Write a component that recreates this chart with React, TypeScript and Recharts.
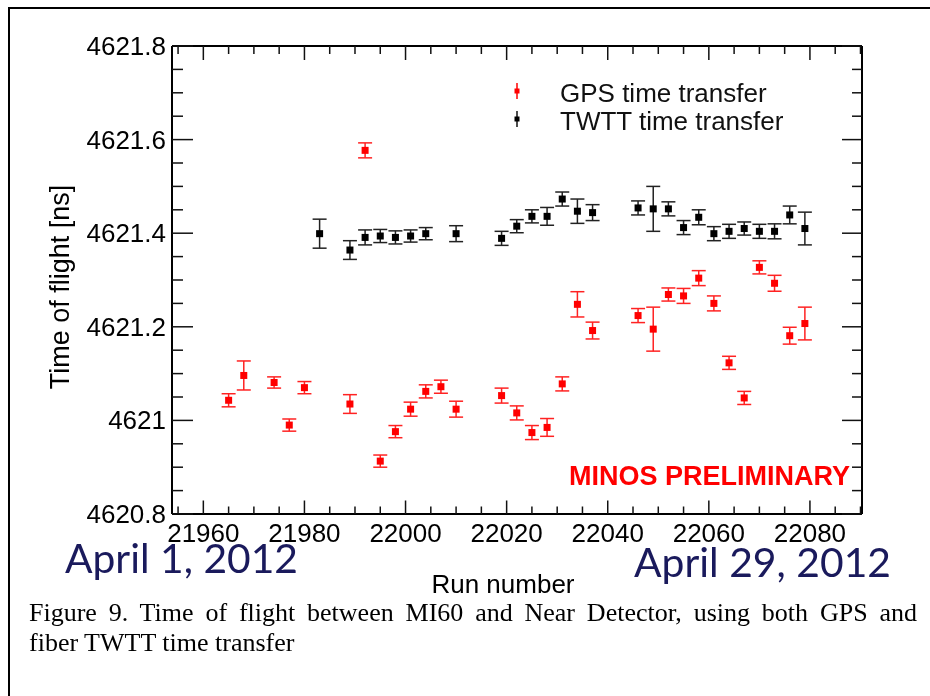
import React from 'react';
import { ScatterChart, Scatter, XAxis, YAxis, ErrorBar, Legend } from 'recharts';

// ---------- data ----------
const gpsRuns = [21965, 21968, 21974, 21977, 21980, 21989, 21992, 21995, 21998, 22001, 22004, 22007, 22010, 22019, 22022, 22025, 22028, 22031, 22034, 22037, 22046, 22049, 22052, 22055, 22058, 22061, 22064, 22067, 22070, 22073, 22076, 22079];
const gpsValues = [4621.043, 4621.096, 4621.081, 4620.990, 4621.070, 4621.035, 4621.577, 4620.913, 4620.976, 4621.024, 4621.062, 4621.072, 4621.024, 4621.053, 4621.016, 4620.974, 4620.985, 4621.078, 4621.248, 4621.192, 4621.224, 4621.195, 4621.269, 4621.266, 4621.304, 4621.250, 4621.123, 4621.048, 4621.327, 4621.293, 4621.181, 4621.207];
const gpsErrors = [0.014, 0.031, 0.012, 0.013, 0.013, 0.020, 0.016, 0.013, 0.013, 0.015, 0.014, 0.014, 0.017, 0.016, 0.015, 0.015, 0.019, 0.015, 0.027, 0.018, 0.015, 0.047, 0.014, 0.016, 0.016, 0.016, 0.014, 0.014, 0.014, 0.017, 0.018, 0.035];

const twttRuns = [21983, 21989, 21992, 21995, 21998, 22001, 22004, 22010, 22019, 22022, 22025, 22028, 22031, 22034, 22037, 22046, 22049, 22052, 22055, 22058, 22061, 22064, 22067, 22070, 22073, 22076, 22079];
const twttValues = [4621.399, 4621.364, 4621.391, 4621.394, 4621.391, 4621.394, 4621.399, 4621.399, 4621.389, 4621.415, 4621.436, 4621.436, 4621.473, 4621.447, 4621.444, 4621.454, 4621.452, 4621.452, 4621.412, 4621.434, 4621.399, 4621.404, 4621.410, 4621.404, 4621.404, 4621.439, 4621.410];
const twttErrors = [0.031, 0.020, 0.016, 0.014, 0.014, 0.013, 0.013, 0.017, 0.015, 0.014, 0.014, 0.019, 0.015, 0.026, 0.017, 0.015, 0.048, 0.015, 0.015, 0.016, 0.015, 0.015, 0.014, 0.015, 0.016, 0.019, 0.035];

const seriesNames = ['GPS time transfer', 'TWTT time transfer'];

const xTicks = [21955, 21960, 21965, 21970, 21975, 21980, 21985, 21990, 21995, 22000, 22005, 22010, 22015, 22020, 22025, 22030, 22035, 22040, 22045, 22050, 22055, 22060, 22065, 22070, 22075, 22080, 22085, 22090];
const xMajorTicks = [21960, 21980, 22000, 22020, 22040, 22060, 22080];
const yTicks = [4620.8, 4620.85, 4620.9, 4620.95, 4621.0, 4621.05, 4621.1, 4621.15, 4621.2, 4621.25, 4621.3, 4621.35, 4621.4, 4621.45, 4621.5, 4621.55, 4621.6, 4621.65, 4621.7, 4621.75, 4621.8];
const yMajorTicks = [4620.8, 4621.0, 4621.2, 4621.4, 4621.6, 4621.8];
const yTickLabels = ['4620.8', '4621', '4621.2', '4621.4', '4621.6', '4621.8'];
const xDomain = [21953.8, 22090.3];
const yDomain = [4620.8, 4621.8];

const xAxisTitle = 'Run number';
const yAxisTitle = 'Time of flight [ns]';
const startDate = 'April 1, 2012';
const endDate = 'April 29, 2012';
const stamp = 'MINOS PRELIMINARY';
const captionLine1 = 'Figure 9. Time of flight between MI60 and Near Detector, using both GPS and';
const captionLine2 = 'fiber TWTT time transfer';

const gpsData = gpsRuns.map((r, i) => ({ run: r, tof: gpsValues[i], err: gpsErrors[i] }));
const twttData = twttRuns.map((r, i) => ({ run: r, tof: twttValues[i], err: twttErrors[i] }));

// ---------- styling helpers ----------
const SANS = '"Liberation Sans", Arial, Helvetica, sans-serif';
const W = 914;
const H = 600;

const near = (a: number, list: number[]) => list.findIndex((m) => Math.abs(m - a) < 1e-6);

const BottomTick = (props: any) => {
  const { x, y, payload } = props;
  const major = near(payload.value, xMajorTicks) >= 0;
  return (
    <g>
      <line x1={x} x2={x} y1={y} y2={y - (major ? 13.5 : 7.5)} stroke="#111" strokeWidth={1.5} />
      {major && (
        <text x={x} y={y + 28} textAnchor="middle" fontSize={26} fontFamily={SANS} fill="#000">
          {payload.value}
        </text>
      )}
    </g>
  );
};

const TopTick = (props: any) => {
  const { x, y, payload } = props;
  const major = near(payload.value, xMajorTicks) >= 0;
  return <line x1={x} x2={x} y1={y} y2={y + (major ? 14 : 8)} stroke="#111" strokeWidth={1.5} />;
};

const LeftTick = (props: any) => {
  const { x, y, payload } = props;
  const idx = near(payload.value, yMajorTicks);
  const major = idx >= 0;
  return (
    <g>
      <line x1={x} x2={x + (major ? 21 : 11)} y1={y} y2={y} stroke="#111" strokeWidth={1.5} />
      {major && (
        <text x={x - 6} y={y + 9} textAnchor="end" fontSize={26} fontFamily={SANS} fill="#000">
          {yTickLabels[idx]}
        </text>
      )}
    </g>
  );
};

const RightTick = (props: any) => {
  const { x, y, payload } = props;
  const major = near(payload.value, yMajorTicks) >= 0;
  return <line x1={x} x2={x - (major ? 20 : 10)} y1={y} y2={y} stroke="#111" strokeWidth={1.5} />;
};

const square = (color: string) => (props: any) => {
  const { cx, cy } = props;
  if (cx == null || cy == null) return <g />;
  return <rect x={cx - 3.5} y={cy - 3.5} width={7} height={7} fill={color} />;
};

const XTitle = (props: any) => {
  const vb = props.viewBox || { x: 164, y: 506, width: 690, height: 80 };
  return (
    <text x={vb.x + vb.width / 2 - 14} y={vb.y + 79} textAnchor="middle" fontSize={26} fontFamily={SANS} fill="#000">
      {xAxisTitle}
    </text>
  );
};

const YTitle = (props: any) => {
  const vb = props.viewBox || { x: 0, y: 38, width: 164, height: 468 };
  const cx = vb.x + 61;
  const cy = vb.y + vb.height / 2 + 7;
  return (
    <text x={cx} y={cy} transform={`rotate(-90 ${cx} ${cy})`} textAnchor="middle" fontSize={27} fontFamily={SANS} fill="#000">
      {yAxisTitle}
    </text>
  );
};

const LegendBox = () => (
  <svg width={380} height={70} style={{ display: 'block', overflow: 'visible' }}>
    <line x1={14} x2={14} y1={7} y2={23} stroke="#f00" strokeWidth={1.5} />
    <rect x={11.5} y={12.5} width={5} height={5} fill="#f00" />
    <text x={57} y={25.5} fontSize={26} fontFamily={SANS} fill="#111">{seriesNames[0]}</text>
    <line x1={14} x2={14} y1={35} y2={51} stroke="#111" strokeWidth={1.5} />
    <rect x={11.5} y={40.5} width={5} height={5} fill="#000" />
    <text x={57} y={54} fontSize={26} fontFamily={SANS} fill="#111">{seriesNames[1]}</text>
  </svg>
);

export default function App() {
  return (
    <div style={{ position: 'relative', width: W, height: 680, background: '#fff' }}>
      <div
        style={{
          position: 'fixed',
          left: 8,
          top: 7,
          width: 930,
          height: 720,
          borderTop: '2px solid #000',
          borderLeft: '2px solid #000',
          boxSizing: 'border-box',
          pointerEvents: 'none',
        }}
      />
      <ScatterChart width={W} height={H} margin={{ top: 37, right: 59, bottom: 14, left: 0 }}>
        <XAxis
          xAxisId={0}
          type="number"
          dataKey="run"
          domain={xDomain}
          allowDataOverflow
          ticks={xTicks}
          interval={0}
          height={80}
          tickLine={false}
          tickSize={0}
          tickMargin={0}
          tick={<BottomTick />}
          axisLine={{ stroke: '#000', strokeWidth: 2 }}
          label={(p: any) => <XTitle {...p} />}
        />
        <XAxis
          xAxisId="top"
          orientation="top"
          type="number"
          dataKey="run"
          domain={xDomain}
          allowDataOverflow
          ticks={xTicks}
          interval={0}
          height={1}
          tickLine={false}
          tickSize={0}
          tickMargin={0}
          tick={<TopTick />}
          axisLine={{ stroke: '#000', strokeWidth: 2 }}
        />
        <YAxis
          yAxisId={0}
          type="number"
          dataKey="tof"
          domain={yDomain}
          allowDataOverflow
          ticks={yTicks}
          interval={0}
          width={164}
          tickLine={false}
          tickSize={0}
          tickMargin={0}
          tick={<LeftTick />}
          axisLine={{ stroke: '#000', strokeWidth: 2 }}
          label={(p: any) => <YTitle {...p} />}
        />
        <YAxis
          yAxisId="right"
          orientation="right"
          type="number"
          dataKey="tof"
          domain={yDomain}
          allowDataOverflow
          ticks={yTicks}
          interval={0}
          width={1}
          tickLine={false}
          tickSize={0}
          tickMargin={0}
          tick={<RightTick />}
          axisLine={{ stroke: '#000', strokeWidth: 2 }}
        />
        <Legend
          layout="horizontal"
          verticalAlign="middle"
          align="center"
          wrapperStyle={{ top: 68, left: 495, width: 380, height: 70 }}
          content={() => <LegendBox />}
        />
        <Scatter name={seriesNames[0]} data={gpsData} dataKey="tof" xAxisId={0} yAxisId={0} shape={square('#f00')} isAnimationActive={false}>
          <ErrorBar dataKey="err" direction="y" width={7} stroke="#f22" strokeWidth={1.5} isAnimationActive={false} />
        </Scatter>
        <Scatter name={seriesNames[1]} data={twttData} dataKey="tof" xAxisId={0} yAxisId={0} shape={square('#000')} isAnimationActive={false}>
          <ErrorBar dataKey="err" direction="y" width={7} stroke="#222" strokeWidth={1.5} isAnimationActive={false} />
        </Scatter>
      </ScatterChart>
      <svg width={W} height={H} style={{ position: 'absolute', left: 0, top: 0, pointerEvents: 'none' }}>
        <text x={842} y={477} textAnchor="end" fontSize={27} fontWeight="bold" fontFamily={SANS} fill="#f00">
          {stamp}
        </text>
        <text x={57} y={565} fontSize={40} fontFamily="Lato, 'Open Sans', sans-serif" fill="#1a1a5c" textLength={233} lengthAdjust="spacingAndGlyphs">
          {startDate}
        </text>
        <text x={626} y={568.5} fontSize={40} fontFamily="Lato, 'Open Sans', sans-serif" fill="#1a1a5c" textLength={257} lengthAdjust="spacingAndGlyphs">
          {endDate}
        </text>
      </svg>
      <div
        style={{
          position: 'absolute',
          left: 21,
          top: 590,
          width: 888,
          fontFamily: '"Liberation Serif", "Times New Roman", serif',
          fontSize: 26,
          lineHeight: '30px',
          color: '#000',
        }}
      >
        <div style={{ textAlign: 'justify', textAlignLast: 'justify', whiteSpace: 'nowrap' as any }}>{captionLine1}</div>
        <div>{captionLine2}</div>
      </div>
    </div>
  );
}
